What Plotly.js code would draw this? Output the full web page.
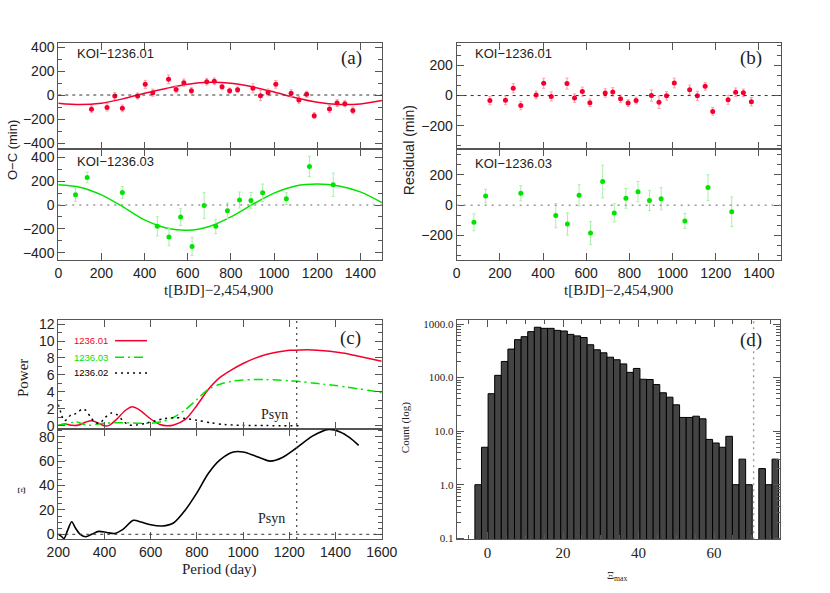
<!DOCTYPE html>
<html>
<head>
<meta charset="utf-8">
<script src="https://cdn.plot.ly/plotly-3.0.1.min.js"></script>
<style>
  html, body { margin: 0; padding: 0; background: #fff; }
  #plot { width: 830px; height: 593px; }
</style>
</head>
<body>
<div id="plot"></div>
<script>
// ---- (a) KOI-1236.01 O-C ----
const tA1 = [154, 226, 262, 297, 368, 403, 438, 511, 546, 582, 617, 688, 723, 759,
  794, 831, 902, 937, 972, 1008, 1079, 1115, 1151, 1186, 1257, 1292, 1328, 1365];
const ocA1 = [-119, -103, -8, -111, -8, 89, 19, 131, 47, 103, 36, 111, 114, 69,
  36, 44, 56, -6, 22, 89, 14, -42, 6, -172, -117, -67, -72, -128];
const errA1 = [28, 30, 30, 28, 25, 33, 30, 36, 28, 30, 25, 28, 28, 25,
  22, 22, 37, 42, 28, 32, 30, 30, 25, 25, 30, 28, 25, 28];
const resA1 = [-33, -31, 48, -66, 4, 81, -6, 79, -17, 26, -48, 17, 24, -22,
  -50, -33, 0, -44, -2, 83, 39, -2, 61, -105, -28, 22, 18, -41];

// ---- (a) KOI-1236.03 O-C ----
const tA3 = [80, 134, 297, 459, 513, 567, 620, 676, 730, 784, 840, 893, 947, 1057, 1164, 1274];
const ocA3 = [87, 232, 106, -179, -268, -101, -347, -4, -179, -48, 42, 39, 103, 53, 324, 170];
const errA3 = [56, 45, 50, 80, 73, 70, 75, 108, 60, 65, 67, 67, 73, 50, 85, 98];
const resA3 = [-113, 60, 78, -69, -124, 65, -184, 156, -51, 45, 89, 31, 43, -104, 116, -44];

// ---- model curves ----
const tModel = [0, 100, 200, 300, 400, 500, 600, 700, 800, 900, 1000, 1100, 1200, 1300, 1400, 1500];
const modelA1 = [-68, -80, -68, -32, 15, 55, 90, 106, 98, 68, 25, -22, -60, -79, -74, -45];
const modelA3 = [170, 150, 85, -15, -125, -192, -212, -180, -100, 5, 100, 160, 176, 160, 110, 20];

// ---- (c) power spectra ----
const pRed = [200, 230, 260, 290, 320, 345, 375, 400, 420, 450, 490, 520, 550, 600, 640, 670, 700,
  750, 800, 850, 900, 950, 1000, 1050, 1100, 1150, 1200, 1250, 1300, 1350, 1400, 1450, 1500, 1550, 1600];
const powRed = [0.05, 0.2, 0.05, 0.1, 0.45, 0.6, 0.3, 0.0, 0.05, 0.7, 1.8, 2.25, 1.9, 0.8, 0.15, 0.0, 0.1,
  0.75, 2.4, 4.3, 5.7, 6.6, 7.35, 7.95, 8.4, 8.7, 8.9, 8.95, 8.95, 8.85, 8.7, 8.5, 8.2, 7.9, 7.6];
const pGreen = [200, 230, 260, 275, 300, 330, 360, 400, 450, 500, 550, 600, 650, 700, 750, 800, 850,
  900, 950, 1000, 1050, 1100, 1150, 1200, 1250, 1300, 1350, 1400, 1450, 1500, 1550, 1600];
const powGreen = [0.1, 0.15, 0.4, 0.5, 0.25, 0.05, 0.15, 0.3, 0.35, 0.35, 0.3, 0.3, 0.5, 1.0, 1.9, 3.1, 4.3,
  4.9, 5.25, 5.4, 5.45, 5.45, 5.4, 5.3, 5.2, 5.05, 4.9, 4.75, 4.55, 4.35, 4.15, 3.9];
const pBlack = [200, 212, 225, 240, 255, 270, 285, 305, 320, 340, 360, 380, 400, 430, 455, 480, 505,
  540, 580, 620, 660, 700, 740, 800, 860, 920, 1000, 1100, 1250];
const powBlack = [2.5, 1.5, 0.6, 0.8, 1.3, 1.35, 1.6, 2.0, 1.8, 1.0, 0.4, 0.3, 0.9, 1.5, 1.3, 0.6, 0.1,
  0.1, 0.3, 0.6, 0.85, 0.95, 0.9, 0.65, 0.35, 0.15, 0.05, 0.02, 0.0];

// ---- (c) Xi statistic ----
const pXi = [200, 212, 225, 240, 258, 275, 295, 320, 345, 375, 410, 445, 480, 525, 560, 600, 650, 700,
  750, 800, 850, 900, 958, 1000, 1050, 1117, 1170, 1232, 1300, 1370, 1420, 1460, 1500];
const xi = [0, -1.5, -3.5, 3, 10.3, 5, 0, -2, 0, 2.4, 1.5, 0.7, 4, 11.5, 10, 7.8, 6.8, 9.5,
  20, 34, 50, 61, 67.5, 67.5, 64.5, 60, 63, 71, 80.5, 86, 84, 79.5, 73];
const pSyn = 1232;

// ---- (d) histogram of Xi_max ----
const binStart = -3.37;
const binWidth = 1.75;
const counts = [1, 5, 50, 110, 200, 340, 510, 580, 720, 870, 830, 830, 760, 740, 640, 600, 560, 410,
  330, 290, 240, 215, 180, 125, 148, 93, 92, 74, 52, 43, 31, 18, 18, 19, 17, 7, 6, 5, 8, 1, 3, 1,
  null, 2, 1, 3];
const xiObs = 70.5;
const binCenters = counts.map((_, i) => binStart + binWidth * (i + 0.5));

const logTickVals = [0.1, 1, 10, 100, 1000];
const logTickText = ["0.1", "1.0", "10.0", "100.0", "1000.0"];
const logMinor = [];
[0.1, 1, 10, 100].forEach((d) => { for (let k = 2; k <= 9; k++) logMinor.push(d * k); });

const RED = "#f5002e";
const RED_ERR = "#ff9aa6";
const GREEN = "#00e400";
const GREEN_ERR = "#a8f0a8";
const SANS = "Liberation Sans, Arial, sans-serif";
const SERIF = "Liberation Serif, Times New Roman, serif";

function points(x, y, err, xa, ya, color, errColor) {
  return {
    x, y, xaxis: xa, yaxis: ya, type: "scatter", mode: "markers",
    marker: { color, size: 5 },
    error_y: { type: "data", array: err, visible: true, color: errColor, thickness: 1, width: 1.5 },
    hoverinfo: "skip",
  };
}

function curve(x, y, xa, ya, color, dash, width = 1.5) {
  return {
    x, y, xaxis: xa, yaxis: ya, type: "scatter", mode: "lines",
    line: { color, width, dash, shape: "spline", smoothing: 0.8 },
    hoverinfo: "skip",
  };
}

const traces = [
  curve(tModel, modelA1, "x", "y", RED, "solid"),
  points(tA1, ocA1, errA1, "x", "y", RED, RED_ERR),
  curve(tModel, modelA3, "x2", "y2", GREEN, "solid"),
  points(tA3, ocA3, errA3, "x2", "y2", GREEN, GREEN_ERR),
  points(tA1, resA1, errA1, "x3", "y3", RED, RED_ERR),
  points(tA3, resA3, errA3, "x4", "y4", GREEN, GREEN_ERR),
  curve(pRed, powRed, "x5", "y5", RED, "solid"),
  curve(pGreen, powGreen, "x5", "y5", GREEN, "9px,4px,2px,4px"),
  curve(pBlack, powBlack, "x5", "y5", "#000", "2px,4px"),
  curve(pXi, xi, "x6", "y6", "#000", "solid", 1.6),
  {
    x: binCenters, y: counts, xaxis: "x7", yaxis: "y7", type: "bar", width: binWidth,
    marker: { color: "#444", line: { color: "#000", width: 1 } },
    hoverinfo: "skip",
  },
];

const frame = {
  showline: true, linecolor: "#555", linewidth: 1, mirror: "ticks",
  ticks: "inside", ticklen: 7, tickcolor: "#555", tickwidth: 1,
  zeroline: false, showgrid: false, fixedrange: true,
  tickfont: { family: SANS, size: 14, color: "#222" },
};
const minor = (dtick) => ({ ticks: "inside", dtick, ticklen: 4, tickcolor: "#555", showgrid: false });

const domA = [0.0702, 0.4602];
const domB = [0.5502, 0.9404];
const domTop = [0.7487, 0.9283];
const domBot = [0.5616, 0.7487];

const layout = {
  width: 830, height: 593,
  margin: { l: 0, r: 0, t: 0, b: 0 },
  paper_bgcolor: "#fff", plot_bgcolor: "#fff",
  showlegend: false,
  font: { family: SANS, size: 14, color: "#222" },
  xaxis: { ...frame, domain: domA, range: [0, 1500], dtick: 200, showticklabels: false, anchor: "y" },
  yaxis: { ...frame, domain: domTop, range: [-450, 437.5], dtick: 200, minor: minor(100), anchor: "x" },
  xaxis2: { ...frame, domain: domA, range: [0, 1500], dtick: 200, anchor: "y2" },
  yaxis2: { ...frame, domain: domBot, range: [-461, 470], dtick: 200, minor: minor(100), anchor: "x2" },
  xaxis3: { ...frame, domain: domB, range: [0, 1500], dtick: 200, showticklabels: false, anchor: "y3" },
  yaxis3: { ...frame, domain: domTop, range: [-354, 351], dtick: 200, minor: minor(200 / 3), anchor: "x3" },
  xaxis4: { ...frame, domain: domB, range: [0, 1500], dtick: 200, anchor: "y4" },
  yaxis4: { ...frame, domain: domBot, range: [-362, 371], dtick: 200, minor: minor(200 / 3), anchor: "x4" },
  xaxis5: { ...frame, domain: [0.0702, 0.4599], range: [200, 1600], dtick: 200, showticklabels: false, anchor: "y5" },
  yaxis5: { ...frame, domain: [0.2760, 0.4604], range: [-0.42, 12.48], dtick: 2, minor: minor(1), anchor: "x5" },
  xaxis6: { ...frame, domain: [0.0702, 0.4599], range: [200, 1600], dtick: 200, anchor: "y6" },
  yaxis6: { ...frame, domain: [0.0911, 0.2760], range: [-3.85, 86.1], dtick: 20, minor: minor(5), anchor: "x6" },
  xaxis7: {
    ...frame, domain: [0.5502, 0.9398], range: [-8.2, 77.5], dtick: 20, minor: minor(5), anchor: "y7",
    tickfont: { family: SERIF, size: 15, color: "#222" },
  },
  yaxis7: {
    ...frame, type: "log", domain: [0.0906, 0.4604], range: [-1.019, 3.075], anchor: "x7",
    tickmode: "array", tickvals: logTickVals, ticktext: logTickText,
    minor: { ticks: "inside", tickmode: "array", tickvals: logMinor, ticklen: 4, tickcolor: "#555" },
    tickfont: { family: SERIF, size: 11, color: "#222" },
  },
  shapes: [
    { type: "line", xref: "x", yref: "y", x0: 0, x1: 1500, y0: 0, y1: 0, line: { color: "#333", width: 1, dash: "3px,4px" } },
    { type: "line", xref: "x2", yref: "y2", x0: 0, x1: 1500, y0: 0, y1: 0, line: { color: "#999", width: 1.6, dash: "2px,5px" } },
    { type: "line", xref: "x3", yref: "y3", x0: 0, x1: 1500, y0: 0, y1: 0, line: { color: "#333", width: 1, dash: "3px,4px" } },
    { type: "line", xref: "x4", yref: "y4", x0: 0, x1: 1500, y0: 0, y1: 0, line: { color: "#999", width: 1.6, dash: "2px,5px" } },
    { type: "line", xref: "x6", yref: "y6", x0: 200, x1: 1600, y0: 0, y1: 0, line: { color: "#333", width: 1, dash: "3px,4px" } },
    { type: "line", xref: "x5", yref: "paper", x0: pSyn, x1: pSyn, y0: 0.0911, y1: 0.4604, line: { color: "#444", width: 1.2, dash: "2px,4px" } },
    { type: "line", xref: "x7", yref: "paper", x0: xiObs, x1: xiObs, y0: 0.0906, y1: 0.4604, line: { color: "#999", width: 1.4, dash: "2px,4px" } },
    // legend samples for panel (c)
    { type: "line", xref: "paper", yref: "paper", x0: 0.1386, x1: 0.1771, y0: 0.4255, y1: 0.4255, line: { color: RED, width: 1.5 } },
    { type: "line", xref: "paper", yref: "paper", x0: 0.1386, x1: 0.1771, y0: 0.3975, y1: 0.3975, line: { color: GREEN, width: 1.5, dash: "9px,4px,2px,4px" } },
    { type: "line", xref: "paper", yref: "paper", x0: 0.1386, x1: 0.1771, y0: 0.3710, y1: 0.3710, line: { color: "#000", width: 1.5, dash: "2px,4px" } },
  ],
  annotations: [],
};

function note(text, x, y, opts = {}) {
  layout.annotations.push({
    text, x, y, xref: "paper", yref: "paper", showarrow: false,
    xanchor: opts.xanchor || "center", yanchor: "middle",
    textangle: opts.angle || 0,
    font: { family: opts.family || SANS, size: opts.size || 14, color: opts.color || "#222" },
  });
}

note("KOI−1236.01", 0.0904, 0.9106, { xanchor: "left", size: 13 });
note("KOI−1236.03", 0.0904, 0.7273, { xanchor: "left", size: 13 });
note("KOI−1236.01", 0.5700, 0.9106, { xanchor: "left", size: 13 });
note("KOI−1236.03", 0.5700, 0.7246, { xanchor: "left", size: 13 });
note("(a)", 0.4229, 0.9022, { family: SERIF, size: 19 });
note("(b)", 0.9048, 0.9022, { family: SERIF, size: 19 });
note("(c)", 0.4217, 0.4300, { family: SERIF, size: 19 });
note("(d)", 0.9048, 0.4266, { family: SERIF, size: 19 });
note("Psyn", 0.3313, 0.3002, { family: SERIF, size: 14 });
note("Psyn", 0.3277, 0.1248, { family: SERIF, size: 14 });
note("1236.01", 0.0867, 0.4255, { xanchor: "left", size: 9.5, color: RED });
note("1236.03", 0.0867, 0.3975, { xanchor: "left", size: 9.5, color: GREEN });
note("1236.02", 0.0867, 0.3710, { xanchor: "left", size: 9.5, color: "#000" });
note("O−C (min)", 0.0145, 0.7470, { angle: -90, size: 13 });
note("Residual (min)", 0.4930, 0.7470, { angle: -90, size: 14 });
note("Power", 0.0277, 0.3626, { angle: -90, family: SERIF, size: 15 });
note("Ξ", 0.0253, 0.1737, { angle: -90, family: SERIF, size: 11 });
note("Count (log)", 0.4880, 0.2780, { angle: -90, family: SERIF, size: 11 });
note("t[BJD]−2,454,900", 0.2633, 0.5110, { family: SERIF, size: 15 });
note("t[BJD]−2,454,900", 0.7446, 0.5110, { family: SERIF, size: 15 });
note("Period (day)", 0.2650, 0.0388, { family: SERIF, size: 15 });
note("Ξ<sub>max</sub>", 0.7434, 0.0287, { family: SERIF, size: 11 });

Plotly.newPlot("plot", traces, layout, { staticPlot: true, displayModeBar: false });
</script>
</body>
</html>
